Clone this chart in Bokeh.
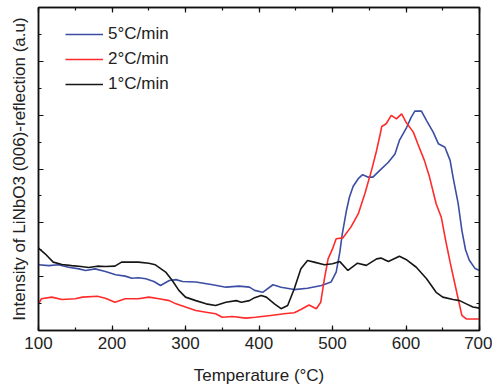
from bokeh.plotting import figure
from bokeh.models import (LinearAxis, SingleIntervalTicker, Legend, LegendItem, Range1d,
                          CustomJSTickFormatter)
from bokeh.embed import file_html
from bokeh.resources import INLINE

# ---- data ----
t_1 = [100, 109, 120, 132, 145, 158, 168, 180, 191, 204, 213, 236, 250, 259, 273, 282, 291, 300,
       314, 328, 341, 355, 369, 376, 387, 394, 403, 410, 421, 430, 439, 448, 457, 466, 475, 489,
       500, 510, 521, 534, 546, 560, 566, 576, 591, 600, 614, 628, 641, 650, 664, 673, 682, 691, 700]
y_1 = [3.06, 2.85, 2.54, 2.45, 2.41, 2.38, 2.34, 2.39, 2.38, 2.39, 2.54, 2.54, 2.50, 2.44, 2.17,
       1.86, 1.49, 1.24, 1.11, 0.99, 0.93, 1.05, 1.11, 1.05, 1.11, 1.22, 1.30, 1.24, 0.99, 0.81,
       0.93, 1.55, 2.29, 2.60, 2.54, 2.44, 2.48, 2.56, 2.23, 2.50, 2.42, 2.66, 2.69, 2.56, 2.76,
       2.64, 2.35, 1.92, 1.42, 1.24, 1.15, 1.11, 0.99, 0.87, 0.83]

t_2 = [100, 104, 118, 132, 150, 160, 180, 191, 204, 218, 236, 250, 264, 278, 287, 300, 314, 328,
       341, 350, 364, 382, 395, 416, 434, 448, 457, 468, 478, 484, 489, 494, 500, 505, 514, 525,
       535, 544, 553, 560, 565, 567, 573, 580, 587, 594, 600, 610, 616, 625, 632, 641, 648, 654,
       660, 669, 676, 682, 700]
y_2 = [0.99, 1.18, 1.24, 1.15, 1.18, 1.24, 1.27, 1.20, 1.05, 1.18, 1.18, 1.24, 1.18, 1.11, 0.99,
       0.87, 0.74, 0.68, 0.62, 0.49, 0.52, 0.46, 0.49, 0.56, 0.62, 0.66, 0.78, 0.95, 0.81, 1.05,
       1.92, 2.66, 3.03, 3.41, 3.44, 3.84, 4.33, 5.08, 5.94, 6.69, 7.31, 7.58, 7.68, 7.99, 7.86,
       8.05, 7.74, 7.37, 6.94, 6.32, 5.70, 4.71, 4.21, 3.34, 2.54, 1.42, 0.56, 0.43, 0.43]

t_5 = [100, 114, 127, 141, 155, 164, 177, 191, 205, 218, 227, 236, 246, 257, 266, 278, 287, 296,
       314, 337, 355, 373, 387, 394, 405, 419, 430, 448, 466, 485, 498, 505, 510, 513, 519, 523,
       528, 535, 541, 548, 555, 564, 576, 585, 591, 601, 607, 612, 621, 628, 637, 644, 653, 660,
       664, 671, 676, 681, 686, 694, 700]
y_5 = [2.44, 2.41, 2.44, 2.35, 2.29, 2.23, 2.29, 2.19, 2.07, 2.02, 1.94, 1.96, 1.92, 1.82, 1.67,
       1.86, 1.89, 1.82, 1.80, 1.70, 1.61, 1.65, 1.61, 1.49, 1.42, 1.70, 1.61, 1.52, 1.57, 1.67,
       1.80, 2.17, 2.91, 3.53, 4.46, 4.95, 5.35, 5.64, 5.79, 5.70, 5.70, 5.94, 6.25, 6.56, 7.06,
       7.55, 7.92, 8.15, 8.15, 7.80, 7.37, 6.94, 6.81, 6.32, 5.70, 4.71, 3.72, 3.00, 2.62, 2.30, 2.23]

series_labels = ["5°C/min", "2°C/min", "1°C/min"]
x_label = "Temperature (°C)"
y_label = "Intensity of LiNbO3 (006)-reflection (a.u)"

FONT = "Liberation Sans"
TXT = "#222222"

p = figure(width=492, height=388, output_backend="svg", toolbar_location=None,
           x_range=Range1d(100, 700), y_range=Range1d(0, 12),
           min_border_left=38, min_border_right=13, min_border_top=7, min_border_bottom=58,
           x_axis_label=x_label, y_axis_label=y_label)
p.grid.visible = False
p.outline_line_color = "#111111"
p.outline_line_width = 1.5
p.background_fill_color = "white"
p.border_fill_color = "white"

xt = SingleIntervalTicker(interval=100, num_minor_ticks=2)
yt = SingleIntervalTicker(interval=2, num_minor_ticks=2)


def style(ax, labels):
    ax.major_tick_in = 5
    ax.major_tick_out = 0
    ax.minor_tick_in = 3
    ax.minor_tick_out = 0
    ax.axis_line_color = "#111111"
    ax.axis_line_width = 1.5
    ax.major_tick_line_color = "#111111"
    ax.minor_tick_line_color = "#111111"
    ax.major_tick_line_width = 1.2
    ax.minor_tick_line_width = 1.2
    ax.major_label_text_font = FONT
    ax.major_label_text_color = TXT
    ax.axis_label_text_font = FONT
    ax.axis_label_text_color = TXT
    ax.axis_label_text_font_style = "normal"
    ax.axis_label_text_font_size = "17px"
    ax.major_label_text_font_size = "17px"
    if not labels:
        ax.formatter = CustomJSTickFormatter(code="return ''")
        ax.major_label_standoff = 0


xa = p.xaxis[0]
xa.ticker = xt
style(xa, True)
xa.major_label_standoff = 6
xa.axis_label_standoff = 14

ya = p.yaxis[0]
ya.ticker = yt
style(ya, False)
ya.axis_label_standoff = 10

top = LinearAxis(ticker=xt)
style(top, False)
p.add_layout(top, "above")
right = LinearAxis(ticker=yt)
style(right, False)
p.add_layout(right, "right")

r5 = p.line(t_5, y_5, line_color="#3c4ea3", line_width=1.6)
r2 = p.line(t_2, y_2, line_color="#ff2b2b", line_width=1.6)
r1 = p.line(t_1, y_1, line_color="#161616", line_width=1.6)

legend = Legend(items=[LegendItem(label=series_labels[0], renderers=[r5]),
                       LegendItem(label=series_labels[1], renderers=[r2]),
                       LegendItem(label=series_labels[2], renderers=[r1])],
                location=(27, 236))
legend.glyph_width = 38
legend.glyph_height = 20
legend.label_height = 20
legend.spacing = 5
legend.padding = 0
legend.margin = 0
legend.label_standoff = 5
legend.border_line_alpha = 0
legend.background_fill_alpha = 0
legend.label_text_font = FONT
legend.label_text_font_size = "17px"
legend.label_text_color = TXT
p.add_layout(legend)

open("out.html", "w").write(file_html(p, INLINE))
